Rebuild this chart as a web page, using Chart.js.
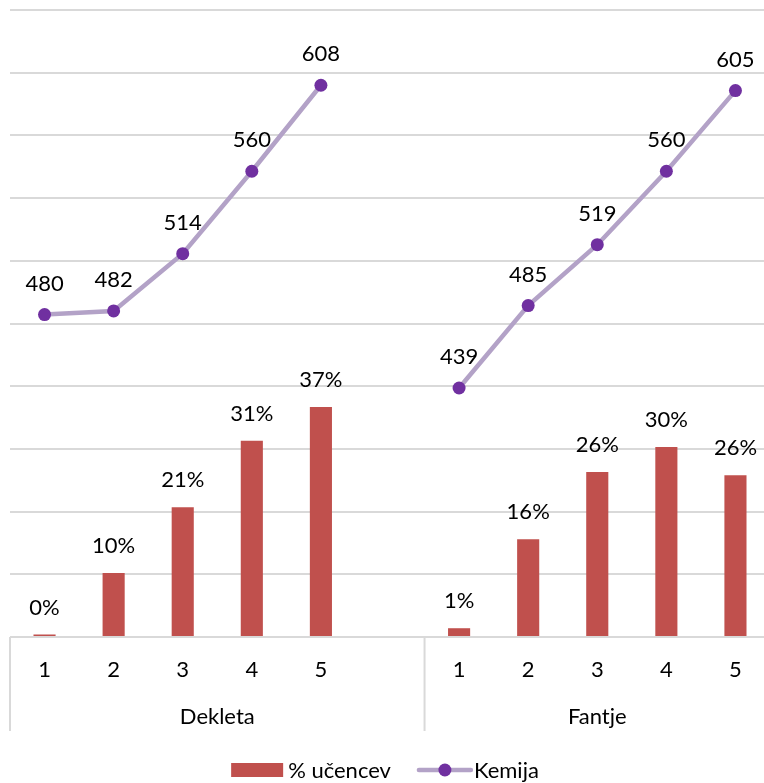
<!DOCTYPE html>
<html>
<head>
<meta charset="utf-8">
<script src="https://cdn.jsdelivr.net/npm/chart.js@4.4.1/dist/chart.umd.min.js"></script>
<style>
  html, body { margin: 0; padding: 0; background: #fff; overflow: hidden; }
  #wrap { width: 780px; height: 783px; }
</style>
</head>
<body>
<div id="wrap"><canvas id="chart" width="780" height="783"></canvas></div>
<script>
const categories = ['1', '2', '3', '4', '5', '', '1', '2', '3', '4', '5']
const groupNames = ['Dekleta', 'Fantje']
const groupStarts = [0, 6]
const groupEnds = [5, 10]
const shareValues = [0.4, 10.2, 20.7, 31.3, 36.7, null, 1.4, 15.6, 26.3, 30.3, 25.8]
const chemistryScores = [480, 482, 514, 560, 608, null, 439, 485, 519, 560, 605]

const FONT = 'Lato, "Open Sans", sans-serif'
const SIZE = 22
const TEXT = '#000'
const GRID = '#d9d9d9'

const valueLabels = {
  id: 'valueLabels',
  afterDatasetsDraw(chart) {
    const ctx = chart.ctx
    ctx.save()
    ctx.font = SIZE + 'px ' + FONT
    ctx.fillStyle = TEXT
    ctx.textAlign = 'center'
    ctx.textBaseline = 'middle'
    chart.data.datasets.forEach((ds, i) => {
      const meta = chart.getDatasetMeta(i)
      meta.data.forEach((el, j) => {
        const v = ds.data[j]
        if (v === null) return
        const txt = ds.type === 'bar' ? Math.round(v) + '%' : String(v)
        const off = ds.type === 'bar' ? 27 : 31
        ctx.fillText(txt, el.x, el.y - off)
      })
    })
    ctx.restore()
  }
}

const groupAxis = {
  id: 'groupAxis',
  afterDraw(chart) {
    const ctx = chart.ctx
    const area = chart.chartArea
    const step = (area.right - area.left) / categories.length
    ctx.save()
    ctx.strokeStyle = GRID
    ctx.lineWidth = 2
    const edges = [area.left, area.left + groupStarts[1] * step, area.right]
    edges.forEach((ex) => {
      ctx.beginPath()
      ctx.moveTo(ex, area.bottom)
      ctx.lineTo(ex, area.bottom + 94)
      ctx.stroke()
    })
    ctx.font = SIZE + 'px ' + FONT
    ctx.fillStyle = TEXT
    ctx.textAlign = 'center'
    ctx.textBaseline = 'middle'
    groupNames.forEach((name, g) => {
      const l = area.left + groupStarts[g] * step
      const r = g === 0 ? edges[1] : area.left + (groupEnds[g] + 1) * step
      ctx.fillText(name, (l + r) / 2, area.bottom + 80)
    })

    // legend
    const items = chart.data.datasets.slice().sort((a, b) => b.order - a.order)
    const y = 770
    const widths = items.map((ds) => 52 + 5 + ctx.measureText(ds.label).width)
    const gap = 26
    const total = widths.reduce((a, b) => a + b, 0) + gap
    let lx = 385 - total / 2
    ctx.textAlign = 'left'
    items.forEach((ds, k) => {
      if (ds.type === 'bar') {
        ctx.fillStyle = ds.backgroundColor
        ctx.fillRect(lx, y - 7, 52, 14)
      } else {
        ctx.strokeStyle = ds.borderColor
        ctx.lineWidth = ds.borderWidth
        ctx.lineCap = 'round'
        ctx.beginPath()
        ctx.moveTo(lx + 2, y)
        ctx.lineTo(lx + 54, y)
        ctx.stroke()
        ctx.fillStyle = ds.pointBackgroundColor
        ctx.beginPath()
        ctx.arc(lx + 28, y, ds.pointRadius, 0, Math.PI * 2)
        ctx.fill()
      }
      ctx.fillStyle = TEXT
      ctx.fillText(ds.label, lx + 57, y + 1)
      lx += widths[k] + gap
    })
    ctx.restore()
  }
}

const ctx = document.getElementById('chart').getContext('2d')
new Chart(ctx, {
  data: {
    labels: categories,
    datasets: [
      {
        type: 'bar',
        label: '% učencev',
        data: shareValues,
        backgroundColor: '#c0504d',
        barPercentage: 0.32,
        categoryPercentage: 1,
        yAxisID: 'y',
        order: 1,
      },
      {
        type: 'line',
        label: 'Kemija',
        data: chemistryScores,
        borderColor: '#b3a2c7',
        borderWidth: 4.5,
        pointBackgroundColor: '#7030a0',
        pointBorderColor: '#7030a0',
        pointRadius: 6.5,
        pointBorderWidth: 0,
        spanGaps: false,
        yAxisID: 'y1',
        order: 0,
      },
    ],
  },
  options: {
    responsive: false,
    animation: false,
    layout: { padding: { left: 10, right: 10, top: 10, bottom: 0 } },
    plugins: {
      legend: { display: false },
      tooltip: { enabled: false },
    },
    scales: {
      x: {
        offset: true,
        grid: { display: false, drawTicks: false },
        border: { display: false },
        ticks: { color: TEXT, font: { family: FONT, size: SIZE }, padding: 20 },
        afterFit(scale) { scale.height = 146 },
      },
      y: {
        min: 0,
        max: 100,
        ticks: { display: false, stepSize: 10 },
        grid: { color: GRID, lineWidth: 2, drawTicks: false },
        border: { display: false },
        afterFit(scale) { scale.width = 0 },
      },
      y1: {
        display: false,
        min: 300,
        max: 650,
      },
    },
  },
  plugins: [valueLabels, groupAxis],
})
</script>
</body>
</html>
